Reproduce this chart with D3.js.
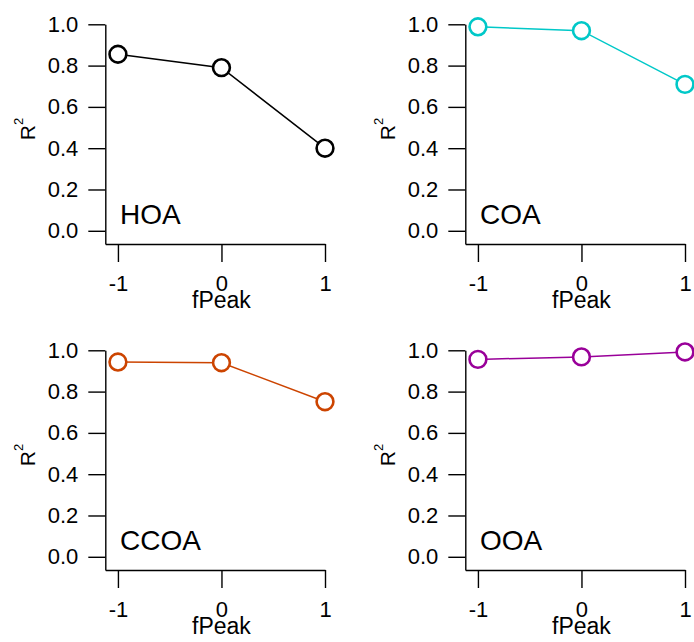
<!DOCTYPE html>
<html>
<head>
<meta charset="utf-8">
<script src="https://cdn.jsdelivr.net/npm/d3@7"></script>
<style>
  body { margin: 0; background: #fff; }
  svg { display: block; font-family: "Liberation Sans", Arial, sans-serif; }
</style>
</head>
<body>
<svg width="694" height="642"></svg>
<script>
// data
var fPeak = [-1, 0, 1];
var factors = ["HOA", "COA", "CCOA", "OOA"];
var hoa = [0.855, 0.79, 0.40];
var coa = [0.988, 0.969, 0.709];
var ccoa = [0.943, 0.940, 0.751];
var ooa = [0.956, 0.968, 0.992];
var yTicks = [0, 0.2, 0.4, 0.6, 0.8, 1.0];
var xTicks = [-1, 0, 1];

var series = [hoa, coa, ccoa, ooa];
var colors = ["#000000", "#00c8c8", "#cc4400", "#990099"];

var svg = d3.select("svg");

// panel layout
var panelDx = 360, panelDy = 326;

var x = d3.scaleLinear().domain([-1.122, 1]).range([105.3, 325]);
var y = d3.scaleLinear().domain([-0.064, 1]).range([244, 24.3]);

factors.forEach(function(name, i) {
  var g = svg.append("g")
    .attr("transform", "translate(" + (i % 2) * panelDx + "," + Math.floor(i / 2) * panelDy + ")");

  //y axis
  var ya = g.append("g")
    .attr("transform", "translate(" + x.range()[0] + ",0)")
    .call(d3.axisLeft(y).tickValues(yTicks).tickFormat(d3.format(".1f"))
      .tickSize(17).tickSizeOuter(0).tickPadding(10));

  //x axis
  var xa = g.append("g")
    .attr("transform", "translate(0," + y.range()[0] + ")")
    .call(d3.axisBottom(x).tickValues(xTicks).tickFormat(d3.format("d"))
      .tickSize(18).tickSizeOuter(0).tickPadding(13));

  [ya, xa].forEach(function(a) {
    a.attr("font-size", null).attr("font-family", null);
    a.selectAll("path, line").attr("stroke", "#000").attr("stroke-width", 1.4);
    a.selectAll("text").attr("fill", "#000").style("font-size", "22px");
  });
  xa.selectAll("text").text(function(d) { return d < 0 ? "-" + Math.abs(d) : d; });

  // axis titles
  g.append("text")
    .attr("x", x(0)).attr("y", 308)
    .attr("text-anchor", "middle")
    .style("font-size", "23px")
    .text("fPeak");

  var rl = g.append("text")
    .attr("transform", "translate(35,129) rotate(-90)")
    .attr("text-anchor", "middle")
    .style("font-size", "21px");
  rl.append("tspan").text("R");
  rl.append("tspan").attr("dy", -12).style("font-size", "13px").text("2");

  // panel label
  g.append("text")
    .attr("x", 120).attr("y", 223.5)
    .style("font-size", "28px")
    .text(name);

  var pts = fPeak.map(function(f, j) { return [f, series[i][j]]; });

  g.append("path")
    .datum(pts)
    .attr("fill", "none")
    .attr("stroke", colors[i])
    .attr("stroke-width", 1.5)
    .attr("d", d3.line().x(function(d) { return x(d[0]); }).y(function(d) { return y(d[1]); }));

  g.selectAll("circle")
    .data(pts)
    .enter().append("circle")
    .attr("cx", function(d) { return x(d[0]); })
    .attr("cy", function(d) { return y(d[1]); })
    .attr("r", 8.4)
    .attr("fill", "#fff")
    .attr("stroke", colors[i])
    .attr("stroke-width", 2.6);
});
</script>
</body>
</html>
